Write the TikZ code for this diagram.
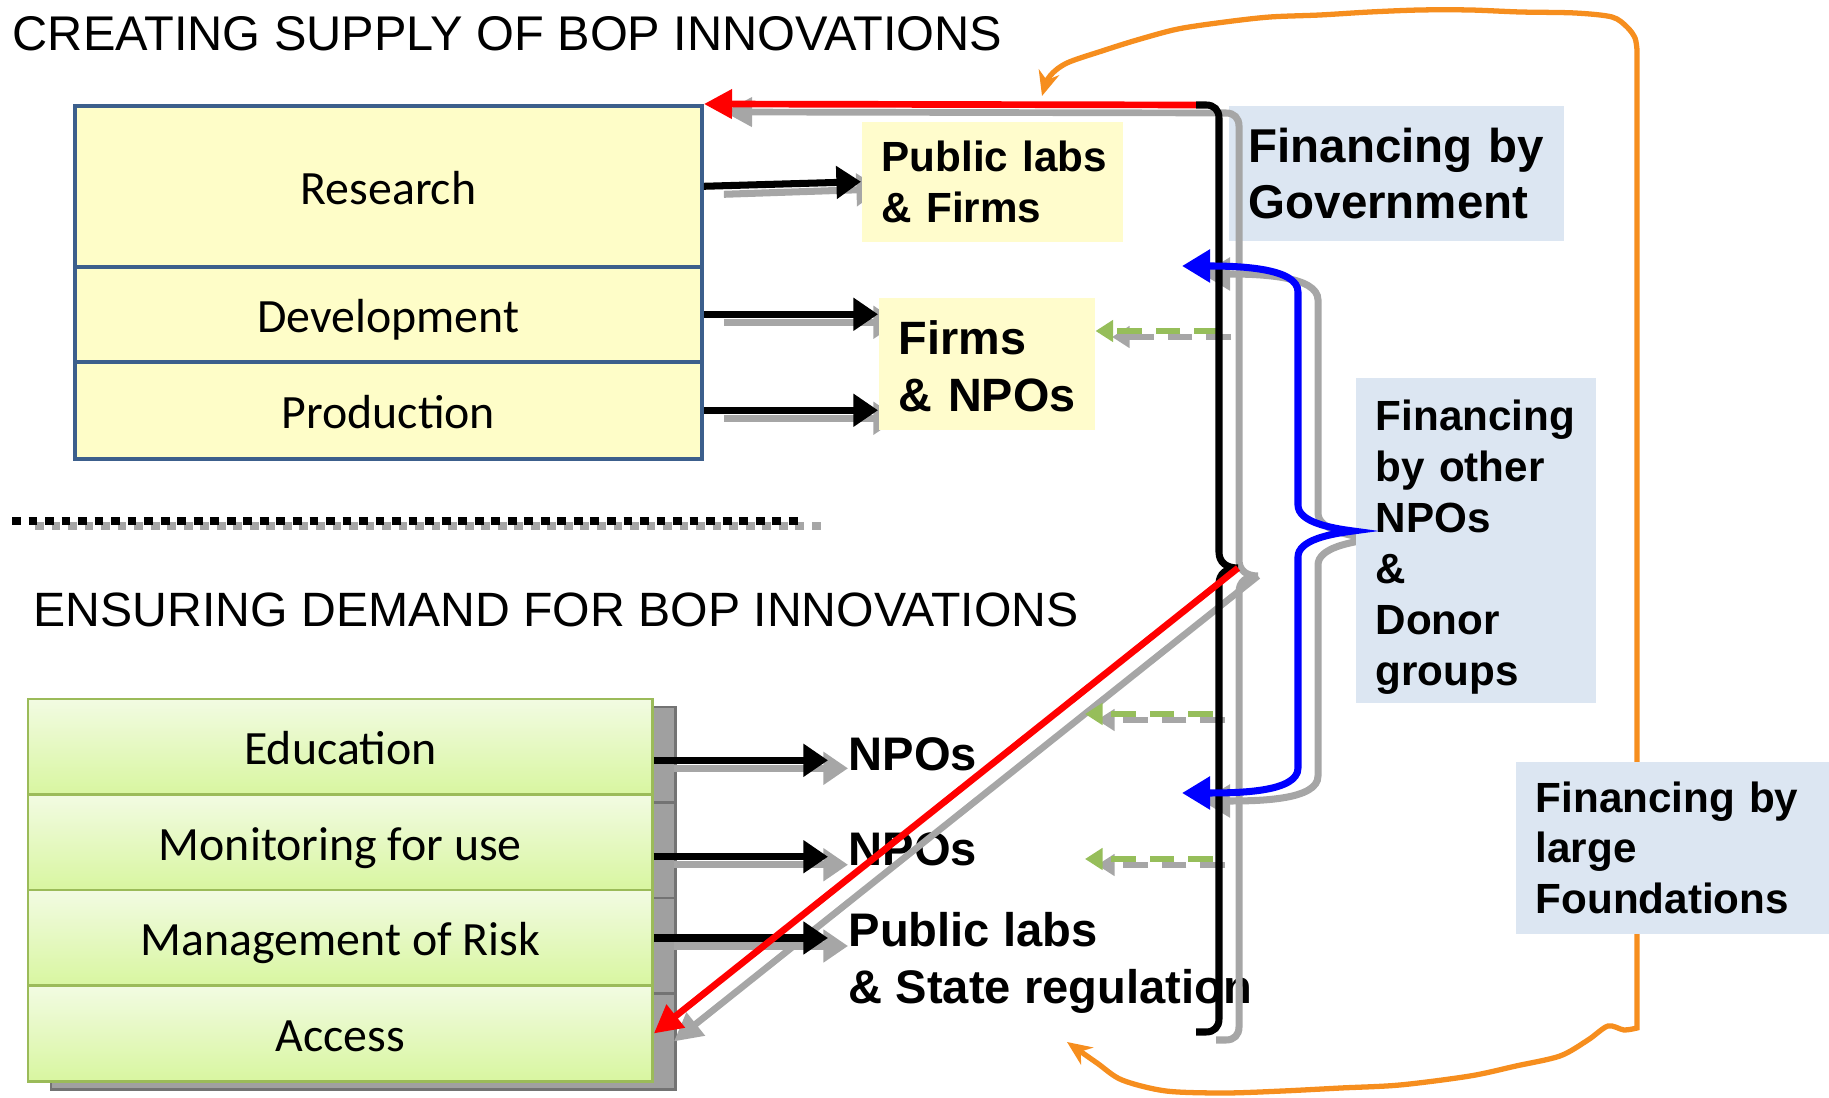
\documentclass[tikz,border=0pt]{standalone}
\usepackage{fontspec}
\setmainfont{Liberation Sans}
\newfontfamily\calib{Carlito}
\usetikzlibrary{arrows.meta,calc,shadows}
\definecolor{supblue}{RGB}{60,95,140}
\definecolor{supfill}{RGB}{254,253,200}
\definecolor{labfill}{RGB}{255,252,204}
\definecolor{finblue}{RGB}{220,230,242}
\definecolor{demgreen}{RGB}{155,187,89}
\definecolor{demtop}{RGB}{242,251,226}
\definecolor{dembot}{RGB}{216,246,160}
\definecolor{boxshadow}{RGB}{160,160,160}
\definecolor{lineshadow}{RGB}{166,166,166}
\definecolor{orangeline}{RGB}{246,142,30}
\definecolor{dashgreen}{RGB}{150,190,90}
\begin{document}
\begin{tikzpicture}[x=0.01cm,y=-0.01cm,
 title/.style={anchor=west,inner sep=0pt,font=\fontsize{13.7}{16}\selectfont},
 suprow/.style={draw=supblue,line width=1pt,fill=supfill,anchor=north west,minimum width=6.27cm,inner sep=0pt,text height=13pt,text depth=2.4pt,font=\calib\fontsize{13.6}{16}\selectfont},
 demrow/.style={draw=demgreen,line width=0.7pt,top color=demtop,bottom color=dembot,anchor=north west,minimum width=6.24cm,minimum height=0.955cm,inner sep=0pt,text height=12.5pt,text depth=2.4pt,font=\calib\fontsize{13.6}{16}\selectfont,drop shadow={shadow xshift=0.23cm,shadow yshift=-0.08cm,fill=boxshadow,draw=black!55,opacity=1}},
 labbox/.style={anchor=north west,fill=labfill,inner xsep=0.2cm,inner ysep=0pt,align=left},
 finbox/.style={anchor=north west,fill=finblue,inner xsep=0.2cm,inner ysep=0pt,align=left},
 demlabel/.style={anchor=west,inner xsep=0.2cm,inner ysep=0pt,align=left,font=\bfseries\fontsize{13.4}{16.2}\selectfont},
 blkarrow/.style={draw=black,line width=2pt,-{Triangle[length=7pt,width=9pt]}},
 redarrow/.style={draw=red,line width=1.9pt,-{Triangle[length=8pt,width=8pt]}},
 bluebrace/.style={draw=blue,line width=2pt,{Triangle[length=8pt,width=9pt]}-{Triangle[length=8pt,width=9pt]}},
 brack/.style={draw=black,line width=2pt},
 greenarrow/.style={draw=dashgreen,line width=1.9pt,dash pattern=on 7pt off 4pt,-{Triangle[length=5pt,width=6pt]}},
 orangeloop/.style={draw=orangeline,line width=1.5pt,{Stealth[length=7pt,width=6pt]}-{Stealth[length=7pt,width=6pt]}},
 sepline/.style={line width=2.1pt,dash pattern=on 2.5pt off 2.2pt},
 shadowed/.style={transform canvas={shift={(0.2cm,-0.08cm)}},draw=lineshadow},
 gshadowed/.style={transform canvas={shift={(0.12cm,-0.06cm)}},draw=lineshadow},
]
\useasboundingbox (0,0) rectangle (1829,1098);

% coordinates
\coordinate (brT) at (1196,105);
\coordinate (brB) at (1196,1032);
\coordinate (brM) at (1238,568);
\coordinate (bT) at (1182,266);
\coordinate (bB) at (1182,793);
\coordinate (bM) at (1353,531);
\coordinate (oT) at (1042,96);
\coordinate (oB) at (1067,1042);
\coordinate (g1s) at (1219,331);
\coordinate (g2s) at (1213,714);
\coordinate (g2e) at (1085,714);
\coordinate (g3s) at (1213,859);
\coordinate (g3e) at (1085,859);
\coordinate (sepL) at (12,521);
\coordinate (sepR) at (805,521);

% orange loop
\draw[orangeloop] plot[smooth,tension=0.5] coordinates {(oT) (1050,76) (1067,63) (1102,51) (1137,40) (1178,29) (1225,22) (1270,17) (1320,15) (1370,12) (1420,10) (1470,10) (1520,12) (1575,13) (1612,17) (1627,27) (1635,38) (1637,50)}
  -- plot[smooth,tension=0.5] coordinates {(1637,1028) (1624,1030) (1608,1026) (1588,1040) (1560,1056) (1516,1066) (1470,1076) (1400,1085) (1341,1088) (1283,1091) (1225,1093) (1166,1091) (1122,1080) (1097,1063) (oB)};

% government box
\node[finbox,minimum width=3.35cm,minimum height=1.35cm,text width=2.95cm,font=\bfseries\fontsize{13.5}{15.9}\selectfont] (gov) at (1228,105) {Financing~by\\Government};

% titles
\node[title,font=\fontsize{13.85}{16}\selectfont] (t1) at (12,34) {CREATING SUPPLY OF BOP INNOVATIONS};
\node[title] (t2) at (33,610) {ENSURING DEMAND FOR BOP INNOVATIONS};

% supply stack
\node[suprow,minimum height=1.61cm] (research) at (73,104) {Research};
\node[suprow,minimum height=0.95cm] (development) at (73,265) {Development};
\node[suprow,minimum height=0.97cm] (production) at (73,360) {Production};

% demand stack
\node[demrow] (education) at (27,698) {Education};
\node[demrow] (monitoring) at (27,793.5) {Monitoring for use};
\node[demrow] (management) at (27,889) {Management of Risk};
\node[demrow] (access) at (27,984.5) {Access};

% demand labels
\node[demlabel] (npoA) at (828,754) {NPOs};
\node[demlabel] (npoB) at (828,849) {NPOs};
\node[demlabel] (pubstate) at (828,963) {Public labs\\\& State regulation};

% separator
\draw[sepline,draw=lineshadow,transform canvas={shift={(0.23cm,-0.05cm)}}] (sepL) -- (sepR);
\draw[sepline,draw=black] (sepL) -- (sepR);

% shadows of connectors
\draw[blkarrow,shadowed] (research.east) -- (861,181);
\draw[blkarrow,shadowed] (development.east) -- (development.east -| 878,0);
\draw[blkarrow,shadowed] (production.east) -- (production.east -| 878,0);
\draw[blkarrow,shadowed] ([yshift=-1.8pt]npoA.west -| education.east) -- ([yshift=-1.8pt]npoA.west);
\draw[blkarrow,shadowed] ([yshift=-2.2pt]npoB.west -| monitoring.east) -- ([yshift=-2.2pt]npoB.west);
\draw[blkarrow,shadowed] (management.east) -- (management.east -| pubstate.west);
\draw[redarrow,shadowed] (brT) -- (research.north east);
\draw[redarrow,shadowed] (brM) -- (access.east);
\draw[brack,shadowed] (brT) -- (1206,105) .. controls (1214,105) and (1219,110) .. (1219,118) -- (1219,552) .. controls (1219,562) and (1226,568) .. (brM) .. controls (1226,568) and (1219,574) .. (1219,584) -- (1219,1019) .. controls (1219,1027) and (1214,1032) .. (1206,1032) -- (brB);
\draw[bluebrace,shadowed] (bT) .. controls (1240,266) and (1298,268) .. (1298,292) -- (1298,505) .. controls (1298,522) and (1330,528) .. (bM) .. controls (1330,534) and (1298,540) .. (1298,557) -- (1298,768) .. controls (1298,792) and (1240,793) .. (bB);
\draw[greenarrow,gshadowed] (g1s) -- (1100,331);
\draw[greenarrow,gshadowed] (g2s) -- (g2e);
\draw[greenarrow,gshadowed] (g3s) -- (g3e);

% label boxes
\node[labbox,minimum width=2.61cm,minimum height=1.20cm,text width=2.21cm,font=\bfseries\fontsize{12}{14.5}\selectfont] (publab) at (861,121) {Public~labs\\\&~Firms};
\node[labbox,minimum width=2.16cm,minimum height=1.32cm,text width=1.76cm,font=\bfseries\fontsize{13.3}{16.2}\selectfont] (firms) at (878,297) {\rule{0pt}{11pt}Firms\\\&~NPOs};
\node[finbox,minimum width=2.40cm,minimum height=3.25cm,text width=2.0cm,font=\bfseries\fontsize{12}{14.5}\selectfont] (other) at (1355,377) {\rule{0pt}{12.8pt}Financing\\by~other\\NPOs\\\&\\Donor\\groups};
\node[finbox,minimum width=3.14cm,minimum height=1.72cm,text width=2.74cm,font=\bfseries\fontsize{12}{14.4}\selectfont] (found) at (1515,761) {Financing~by\\large\\Foundations};

% main connectors
\draw[blkarrow] (research.east) -- (publab.west);
\draw[blkarrow] (development.east) -- (development.east -| firms.west);
\draw[blkarrow] (production.east) -- (production.east -| firms.west);
\draw[blkarrow] ([yshift=-1.8pt]npoA.west -| education.east) -- ([yshift=-1.8pt]npoA.west);
\draw[blkarrow] ([yshift=-2.2pt]npoB.west -| monitoring.east) -- ([yshift=-2.2pt]npoB.west);
\draw[blkarrow] (management.east) -- (management.east -| pubstate.west);
\draw[greenarrow] (g1s) -- (g1s -| firms.east);
\draw[greenarrow] (g2s) -- (g2e);
\draw[greenarrow] (g3s) -- (g3e);
\draw[redarrow] (brT) -- (research.north east);
\draw[brack] (brT) -- (1206,105) .. controls (1214,105) and (1219,110) .. (1219,118) -- (1219,552) .. controls (1219,562) and (1226,568) .. (brM) .. controls (1226,568) and (1219,574) .. (1219,584) -- (1219,1019) .. controls (1219,1027) and (1214,1032) .. (1206,1032) -- (brB);
\draw[redarrow] (brM) -- (access.east);
\draw[bluebrace] (bT) .. controls (1240,266) and (1298,268) .. (1298,292) -- (1298,505) .. controls (1298,522) and (1330,528) .. (bM) .. controls (1330,534) and (1298,540) .. (1298,557) -- (1298,768) .. controls (1298,792) and (1240,793) .. (bB);
\end{tikzpicture}
\end{document}
